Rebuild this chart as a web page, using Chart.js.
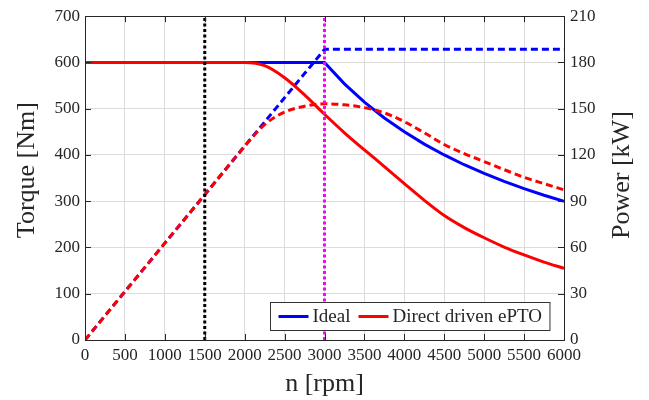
<!DOCTYPE html>
<html>
<head>
<meta charset="utf-8">
<script src="https://cdn.jsdelivr.net/npm/chart.js@4"></script>
<style>
  html, body { margin: 0; padding: 0; background: #fff; }
  #wrap { width: 649px; height: 400px; }
</style>
</head>
<body>
<div id="wrap"><canvas id="torqueChart" width="649" height="400"></canvas></div>
<script>
// speed samples (rpm)
const rpm = [0, 250, 500, 750, 1000, 1250, 1500, 1750, 2000, 2250, 2500, 2750, 3000,
             3250, 3500, 3750, 4000, 4250, 4500, 4750, 5000, 5250, 5500, 5750, 6000];

// Ideal machine
const idealTorque = [600, 600, 600, 600, 600, 600, 600, 600, 600, 600, 600, 600, 600,
                     553.8, 514.3, 480, 450, 423.5, 400, 378.9, 360, 342.9, 327.3, 313, 300];
const idealPower = [0, 15.7, 31.4, 47.1, 62.8, 78.5, 94.2, 110, 125.7, 141.4, 157.1, 172.8, 188.5,
                    188.5, 188.5, 188.5, 188.5, 188.5, 188.5, 188.5, 188.5, 188.5, 188.5, 188.5, 188.5];

// Direct driven ePTO
const drivenTorque = [600, 600, 600, 600, 600, 600, 600, 600, 600, 593, 567, 530, 488,
                      448, 411, 375, 338, 302, 269, 243, 221, 201, 184, 168.5, 155];
const drivenPower = [0, 15.7, 31.4, 47.1, 62.8, 78.5, 94.2, 110, 125.7, 139.7, 147.8, 151.6, 153.2,
                     152.5, 150.7, 147.3, 141.6, 134.4, 126.8, 120.9, 115.7, 110.5, 105.5, 101.4, 97.4];

// vertical marker lines
const markerRpm = [1500, 3000];
const torqueTicks = [0, 100, 200, 300, 400, 500, 600, 700];
const powerTicks = [0, 30, 60, 90, 120, 150, 180, 210];

const FONT = '"Liberation Serif", "DejaVu Serif", serif';
const INK = '#262626';

const pts = (xs, ys) => xs.map((x, i) => ({ x, y: ys[i] }));
const vline = x => [{ x, y: torqueTicks[0] }, { x, y: torqueTicks[torqueTicks.length - 1] }];

Chart.defaults.font.family = FONT;
Chart.defaults.color = INK;

// axis box, inward ticks, axis titles and the inside legend
const frame = {
    id: 'frame',
    afterDraw(chart) {
        const { ctx, chartArea: a, scales } = chart;
        ctx.save();
        ctx.strokeStyle = INK;
        ctx.lineWidth = 1;
        ctx.beginPath();
        scales.x.ticks.forEach(t => {
            const px = Math.round(scales.x.getPixelForValue(t.value)) + 0.5;
            ctx.moveTo(px, a.bottom); ctx.lineTo(px, a.bottom - 6);
            ctx.moveTo(px, a.top); ctx.lineTo(px, a.top + 6);
        });
        scales.y.ticks.forEach(t => {
            const py = Math.round(scales.y.getPixelForValue(t.value)) + 0.5;
            ctx.moveTo(a.left, py); ctx.lineTo(a.left + 6, py);
        });
        scales.y1.ticks.forEach(t => {
            const py = Math.round(scales.y1.getPixelForValue(t.value)) + 0.5;
            ctx.moveTo(a.right, py); ctx.lineTo(a.right - 6, py);
        });
        ctx.stroke();
        ctx.strokeRect(Math.round(a.left) + 0.5, Math.round(a.top) + 0.5,
                       Math.round(a.right - a.left), Math.round(a.bottom - a.top));

        // titles
        ctx.fillStyle = INK;
        ctx.font = '26px ' + FONT;
        ctx.textAlign = 'center';
        ctx.textBaseline = 'middle';
        ctx.fillText('n [rpm]', (a.left + a.right) / 2, 384);
        ctx.save();
        ctx.translate(27, (a.top + a.bottom) / 2 - 8);
        ctx.rotate(-Math.PI / 2);
        ctx.fillText('Torque [Nm]', 0, 0);
        ctx.restore();
        ctx.save();
        ctx.translate(622, (a.top + a.bottom) / 2 - 3);
        ctx.rotate(-Math.PI / 2);
        ctx.fillText('Power [kW]', 0, 0);
        ctx.restore();

        // legend (bottom right, inside the axes)
        const items = chart.data.datasets.filter(d => d.legendOrder)
            .sort((p, q) => p.legendOrder - q.legendOrder);
        ctx.font = '19px ' + FONT;
        const lineLen = 30, gapA = 4, gapB = 8, pad = 8;
        const widths = items.map(d => ctx.measureText(d.label).width);
        let w = pad * 2;
        widths.forEach((tw, i) => { w += lineLen + gapA + tw + (i < items.length - 1 ? gapB : 0); });
        const h = 28;
        const bx = Math.round(a.right - 15 - w) + 0.5;
        const by = Math.round(a.bottom - 10 - h) + 0.5;
        ctx.fillStyle = '#fff';
        ctx.fillRect(bx, by, w, h);
        ctx.strokeStyle = '#333';
        ctx.strokeRect(bx, by, w, h);
        let cx = bx + pad;
        const cy = by + h / 2;
        ctx.textAlign = 'left';
        items.forEach((d, i) => {
            ctx.strokeStyle = d.borderColor;
            ctx.lineWidth = 3;
            ctx.beginPath();
            ctx.moveTo(cx, cy); ctx.lineTo(cx + lineLen, cy);
            ctx.stroke();
            cx += lineLen + gapA;
            ctx.fillStyle = INK;
            ctx.fillText(d.label, cx, cy + 1);
            cx += widths[i] + gapB;
        });
        ctx.restore();
    }
};

const line = (label, data, color, axis, dash, extra) => Object.assign({
    label, data, borderColor: color, backgroundColor: color, yAxisID: axis,
    borderWidth: 3, borderDash: dash, pointRadius: 0, fill: false,
    tension: 0, borderCapStyle: 'butt'
}, extra || {});

const smooth = { cubicInterpolationMode: 'monotone' };

new Chart(document.getElementById('torqueChart'), {
    type: 'line',
    data: {
        datasets: [
            line('marker 3000', vline(markerRpm[1]), '#ff00ff', 'y', [3, 2.5]),
            line('marker 1500', vline(markerRpm[0]), '#000000', 'y', [3, 2.5]),
            line('Direct driven ePTO', pts(rpm, drivenTorque), '#ff0000', 'y', [],
                 Object.assign({ legendOrder: 2 }, smooth)),
            line('Direct driven ePTO power', pts(rpm, drivenPower), '#ff0000', 'y1', [7, 4], smooth),
            line('Ideal', pts(rpm, idealTorque), '#0000ff', 'y', [], { legendOrder: 1 }),
            line('Ideal power', pts(rpm, idealPower), '#0000ff', 'y1', [7, 4])
        ]
    },
    options: {
        responsive: false,
        animation: false,
        devicePixelRatio: 1,
        layout: { padding: { top: 13, left: 0, right: 0, bottom: 0 } },
        plugins: { legend: { display: false }, tooltip: { enabled: false } },
        scales: {
            x: {
                type: 'linear', min: 0, max: 6000,
                afterFit: s => { s.height = 60; },
                ticks: { stepSize: 500, padding: 5, maxRotation: 0, autoSkip: false,
                         font: { size: 17 }, color: INK, callback: v => String(v) },
                grid: { color: '#dcdcdc', drawTicks: false },
                border: { display: false }
            },
            y: {
                position: 'left', min: 0, max: 700,
                afterFit: s => { s.width = 85; },
                afterBuildTicks: s => { s.ticks = torqueTicks.map(v => ({ value: v })); },
                ticks: { padding: 5, font: { size: 17 }, color: INK },
                grid: { color: '#dcdcdc', drawTicks: false },
                border: { display: false }
            },
            y1: {
                position: 'right', min: 0, max: 210,
                afterFit: s => { s.width = 85; },
                afterBuildTicks: s => { s.ticks = powerTicks.map(v => ({ value: v })); },
                ticks: { padding: 6, font: { size: 17 }, color: INK },
                grid: { display: false, drawTicks: false },
                border: { display: false }
            }
        }
    },
    plugins: [frame]
});
</script>
</body>
</html>
